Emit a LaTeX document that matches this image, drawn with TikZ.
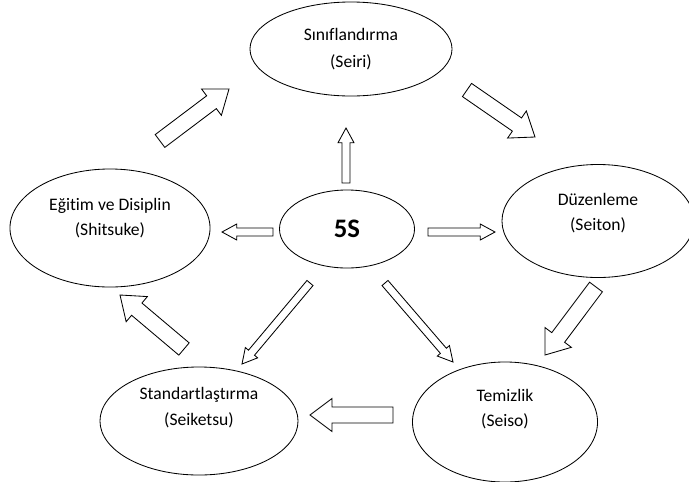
\documentclass[tikz,border=0pt]{standalone}
\usepackage{fontspec}
\setmainfont{Carlito}[Ligatures=NoCommon]
\usepackage{tikz}
\usetikzlibrary{shapes.geometric, calc}

% hollow block arrow: tail, tip, half shaft, half head, head length
\newcommand{\blockarrow}[5]{%
  \path ($(#2)!#5!(#1)$) coordinate (bam);
  \draw[blockline] ($(#1)!#3!90:(#2)$) -- ($(bam)!#3!90:(#2)$) -- ($(bam)!#4!90:(#2)$) -- (#2)
    -- ($(bam)!#4!-90:(#2)$) -- ($(bam)!#3!-90:(#2)$) -- ($(#1)!#3!-90:(#2)$) -- cycle;
}
\newcommand{\thickarrow}[2]{\blockarrow{#1}{#2}{5.7pt}{11.7pt}{15.6pt}}
\newcommand{\thinarrow}[2]{\blockarrow{#1}{#2}{2.8pt}{5.7pt}{10.5pt}}

\begin{document}
\begin{tikzpicture}[x=0.025cm, y=-0.025cm,
        phase/.style={ellipse, draw, line width=0.6pt, inner sep=0pt, align=center,
            font=\fontsize{12.5}{18}\selectfont},
        core/.style={ellipse, draw, line width=0.6pt, inner sep=0pt,
            font=\fontsize{19}{22}\selectfont\bfseries},
        blockline/.style={line width=0.6pt, line join=miter, fill=white}
    ]
        \useasboundingbox (0,0) rectangle (689,481);

        \node[core, minimum width=3.375cm, minimum height=1.95cm] (core) at (347,229) {5S};
        \node[phase, minimum width=5.05cm, minimum height=2.35cm, font=\fontsize{12.5}{19}\selectfont] (seiri) at (351,49) {Sınıflandırma\\(Seiri)};
        \node[phase, minimum width=4.8cm, minimum height=2.825cm, text depth=13pt] (seiton) at (598,221) {Düzenleme\\(Seiton)};
        \node[phase, minimum width=4.625cm, minimum height=3cm, text depth=20pt] (seiso) at (505,422) {Temizlik\\(Seiso)};
        \node[phase, minimum width=4.95cm, minimum height=2.7cm, text depth=21pt] (seiketsu) at (199,421) {Standartlaştırma\\(Seiketsu)};
        \node[phase, minimum width=5cm, minimum height=2.95cm, text depth=16pt] (shitsuke) at (110,228) {Eğitim ve Disiplin\\(Shitsuke)};

        % cycle arrows
        \coordinate (t1s) at (160,141); \coordinate (t1e) at (229,89);
        \coordinate (t2s) at (467,90);  \coordinate (t2e) at (535,137);
        \coordinate (t3s) at (596,287); \coordinate (t3e) at (545,355);
        \coordinate (t4s) at (393,415); \coordinate (t4e) at (310,415);
        \coordinate (t5s) at (184,349); \coordinate (t5e) at (120,295);
        \thickarrow{t1s}{t1e}
        \thickarrow{t2s}{t2e}
        \thickarrow{t3s}{t3e}
        \thickarrow{t4s}{t4e}
        \thickarrow{t5s}{t5e}

        % arrows out of 5S
        \coordinate (c1s) at (346,183); \coordinate (c1e) at (346,128);
        \coordinate (c2s) at (428,232); \coordinate (c2e) at (495,232);
        \coordinate (c3s) at (385,283); \coordinate (c3e) at (453,362);
        \coordinate (c4s) at (310,283); \coordinate (c4e) at (242,364);
        \coordinate (c5s) at (273,232); \coordinate (c5e) at (222,232);
        \thinarrow{c1s}{c1e}
        \thinarrow{c2s}{c2e}
        \thinarrow{c3s}{c3e}
        \thinarrow{c4s}{c4e}
        \thinarrow{c5s}{c5e}
    \end{tikzpicture}
\end{document}
